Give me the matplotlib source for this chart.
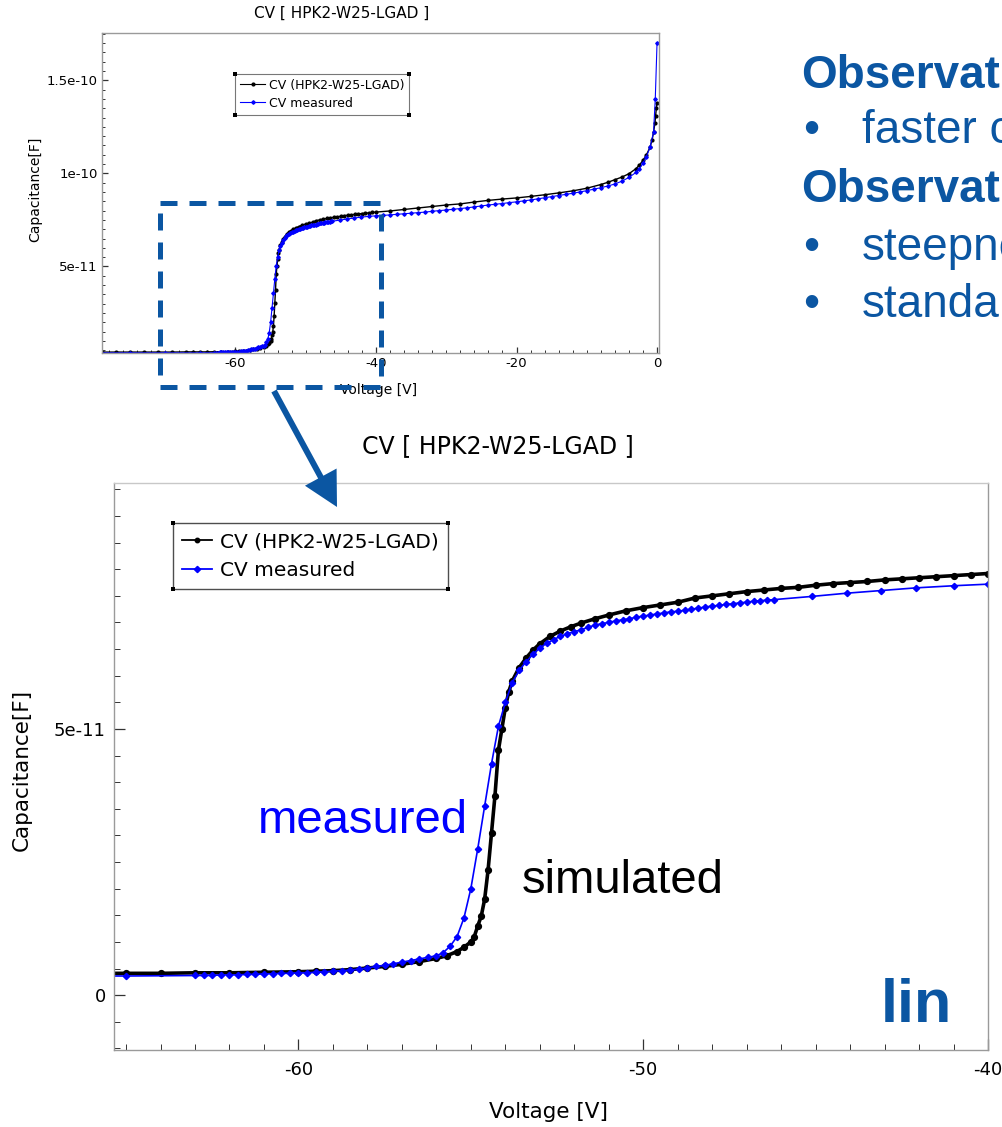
import numpy as np
import matplotlib.pyplot as plt
from matplotlib.ticker import MultipleLocator, FixedLocator, FuncFormatter
from matplotlib.patches import Rectangle, FancyArrow
from matplotlib.lines import Line2D
from matplotlib.transforms import Affine2D

# simulated CV curve (HPK2-W25-LGAD), capacitance in units of 1e-11 F
sim_v = [-79, -77, -75, -73, -71, -69, -67, -66, -65, -64, -63, -62, -61, -60,
         -59.5, -59, -58.5, -58, -57.5, -57, -56.5, -56, -55.7, -55.4, -55.2,
         -55.0, -54.9, -54.8, -54.7, -54.6, -54.5, -54.4, -54.3, -54.2, -54.1,
         -54.0, -53.9, -53.8, -53.6, -53.4, -53.2, -53.0, -52.7, -52.4, -52.1,
         -51.8, -51.4, -51.0, -50.5, -50.0, -49.5, -49.0, -48.5, -48.0, -47.5,
         -47.0, -46.5, -46.0, -45.5, -45.0, -44.5, -44.0, -43.5, -43.0, -42.5,
         -42.0, -41.5, -41.0, -40.5, -40.0, -38, -36, -34, -32, -30, -28, -26,
         -24, -22, -20, -18, -16, -14, -12, -10, -8, -7, -6, -5, -4, -3, -2.5,
         -2, -1.5, -1, -0.7, -0.5, -0.3, -0.2, -0.1, 0]
sim_c = [0.40, 0.40, 0.40, 0.40, 0.40, 0.40, 0.41, 0.41, 0.41, 0.41, 0.42, 0.42,
         0.43, 0.44, 0.45, 0.46, 0.48, 0.51, 0.54, 0.58, 0.63, 0.69, 0.74, 0.82,
         0.90, 1.00, 1.10, 1.30, 1.48, 1.80, 2.35, 3.05, 3.75, 4.60, 5.00, 5.40,
         5.70, 5.90, 6.15, 6.33, 6.48, 6.60, 6.74, 6.84, 6.92, 6.99, 7.07, 7.14,
         7.22, 7.28, 7.33, 7.38, 7.46, 7.50, 7.54, 7.58, 7.61, 7.64, 7.66, 7.70,
         7.73, 7.75, 7.77, 7.80, 7.82, 7.84, 7.86, 7.88, 7.90, 7.92, 7.98, 8.06,
         8.14, 8.22, 8.30, 8.36, 8.46, 8.55, 8.62, 8.68, 8.76, 8.85, 8.95, 9.06,
         9.20, 9.40, 9.52, 9.66, 9.80, 9.98, 10.25, 10.45, 10.7, 11.0, 11.4,
         11.8, 12.2, 12.7, 13.1, 13.5, 13.8]

# measured CV curve, capacitance in units of 1e-11 F
meas_v = [-80, -75, -70, -65, -63.0, -62.75, -62.5, -62.25, -62.0, -61.75, -61.5,
          -61.25, -61.0, -60.75, -60.5, -60.25, -60.0, -59.75, -59.5, -59.25,
          -59.0, -58.75, -58.5, -58.25, -58.0, -57.75, -57.5, -57.25, -57.0,
          -56.75, -56.5, -56.25, -56.0, -55.8, -55.6, -55.4, -55.2, -55.0, -54.8,
          -54.6, -54.4, -54.2, -54.0, -53.8, -53.6, -53.4, -53.2, -53.0, -52.8,
          -52.6, -52.4, -52.2, -52.0, -51.8, -51.6, -51.4, -51.2, -51.0, -50.8,
          -50.6, -50.4, -50.2, -50.0, -49.8, -49.6, -49.4, -49.2, -49.0, -48.8,
          -48.6, -48.4, -48.2, -48.0, -47.8, -47.6, -47.4, -47.2, -47.0, -46.8,
          -46.6, -46.4, -46.2, -45.1, -44.1, -43.1, -42.1, -41.0, -40.0, -39,
          -38, -37, -36, -35, -34, -33, -32, -31, -30, -29, -28, -27, -26, -25,
          -24, -23, -22, -21, -20, -19, -18, -17, -16, -15, -14, -13, -12, -11,
          -10, -9, -8, -7, -6, -5, -4, -3, -2.5, -2, -1.5, -1, -0.5, -0.25, 0]
meas_c = [0.36, 0.36, 0.36, 0.36, 0.37, 0.37, 0.37, 0.38, 0.38, 0.38, 0.39,
          0.39, 0.40, 0.40, 0.41, 0.41, 0.42, 0.42, 0.43, 0.44, 0.45, 0.46,
          0.47, 0.49, 0.51, 0.54, 0.56, 0.59, 0.62, 0.65, 0.68, 0.71, 0.74,
          0.80, 0.92, 1.10, 1.45, 2.00, 2.75, 3.55, 4.35, 5.05, 5.50, 5.87,
          6.10, 6.26, 6.40, 6.52, 6.61, 6.68, 6.74, 6.79, 6.83, 6.86, 6.91,
          6.95, 6.98, 7.00, 7.03, 7.05, 7.07, 7.10, 7.12, 7.14, 7.16, 7.18,
          7.20, 7.21, 7.23, 7.25, 7.27, 7.29, 7.31, 7.32, 7.34, 7.35, 7.37,
          7.38, 7.40, 7.41, 7.42, 7.43, 7.49, 7.55, 7.60, 7.65, 7.69, 7.72,
          7.74, 7.77, 7.80, 7.83, 7.86, 7.89, 7.92, 7.96, 8.00, 8.03, 8.07,
          8.11, 8.15, 8.20, 8.25, 8.30, 8.34, 8.38, 8.43, 8.47, 8.52, 8.57,
          8.63, 8.69, 8.75, 8.81, 8.87, 8.93, 9.00, 9.07, 9.15, 9.23, 9.32,
          9.43, 9.58, 9.78, 10.05, 10.25, 10.55, 10.9, 11.4, 12.2, 14.0, 17.0]

sim_label = 'CV (HPK2-W25-LGAD)'
meas_label = 'CV measured'
title = 'CV [ HPK2-W25-LGAD ]'

# major ticks of the two views
full_xticks = [-60, -40, -20, 0]
full_yticks = [5e-11, 1e-10, 1.5e-10]
zoom_xticks = [-60, -50, -40]
zoom_yticks = [0, 5e-11]

W, H = 1002, 1127
slide_blue = '#0b56a2'
spine_gray = '#9a9a9a'

sim_v = np.array(sim_v)
sim_c = np.array(sim_c) * 1e-11
meas_v = np.array(meas_v)
meas_c = np.array(meas_c) * 1e-11

fmt = FuncFormatter(lambda v, pos: '0' if abs(v) < 1e-20 else '%g' % v)


def style_axes(ax, fs, major_len, minor_len):
    for s in ax.spines.values():
        s.set_color(spine_gray)
        s.set_linewidth(1.0)
    ax.tick_params(which='both', direction='in', top=False, right=False,
                   colors='#333333', labelcolor='black', labelsize=fs)
    ax.tick_params(which='major', length=major_len, width=0.9)
    ax.tick_params(which='minor', length=minor_len, width=0.7)
    ax.xaxis.set_major_formatter(fmt)
    ax.yaxis.set_major_formatter(fmt)


fig = plt.figure(figsize=(W / 100, H / 100), dpi=100)
# pixel coordinates measured from the top-left corner of the figure
px = Affine2D().scale(1 / 100, -1 / 100).translate(0, H / 100) + fig.dpi_scale_trans


def corner_dots(leg):
    bb = leg.get_frame().get_window_extent()
    xs = [bb.x0, bb.x1, bb.x0, bb.x1]
    ys = [H - bb.y0, H - bb.y0, H - bb.y1, H - bb.y1]
    fig.add_artist(Line2D(xs, ys, ls='none', marker='s', color='black',
                          ms=2.6, mew=0, transform=px))


# full-range overview
ax1 = fig.add_axes([102 / W, 1 - 353 / H, 557 / W, 320 / H])
ax1.plot(sim_v, sim_c, '-o', color='black', lw=1.0, ms=2.0, label=sim_label)
ax1.plot(meas_v, meas_c, '-D', color='#0000ff', lw=0.8, ms=1.8, label=meas_label)
ax1.set_xlim(-79, 0.28)
ax1.set_ylim(3.5e-12, 1.754e-10)
ax1.xaxis.set_major_locator(FixedLocator(full_xticks))
ax1.xaxis.set_minor_locator(MultipleLocator(2))
ax1.yaxis.set_major_locator(FixedLocator(full_yticks))
ax1.yaxis.set_minor_locator(MultipleLocator(5e-12))
style_axes(ax1, 9.5, 4, 2.5)
ax1.tick_params(axis='x', pad=3)
ax1.tick_params(axis='y', pad=3)
ax1.set_xlabel('Voltage [V]', fontsize=10)
ax1.xaxis.set_label_coords(0.497, -0.116)
ax1.xaxis.label.set_va('center')
ax1.set_ylabel('Capacitance[F]', fontsize=10)
ax1.yaxis.set_label_coords(-0.120, 0.51)
ax1.yaxis.label.set_va('center')
ax1.text(0.431, 1.063, title, transform=ax1.transAxes, ha='center',
         va='center', fontsize=11)
leg1 = ax1.legend(loc='upper left', bbox_to_anchor=(0.239, 0.873),
                  borderaxespad=0, fontsize=9, frameon=True, fancybox=False,
                  edgecolor='#555555', handlelength=2.0, handletextpad=0.3,
                  borderpad=0.4, labelspacing=0.4)
leg1.get_frame().set_linewidth(0.8)
for ln in leg1.get_lines():
    ln.set_linewidth(0.8)

# zoom on the depletion of the gain layer
ax2 = fig.add_axes([114 / W, 1 - 1050 / H, 874 / W, 567 / H])
ax2.plot(sim_v, sim_c, '-o', color='black', lw=2.6, ms=4.2, label=sim_label)
ax2.plot(meas_v, meas_c, '-D', color='#0000ff', lw=1.2, ms=3.2, label=meas_label)
ax2.set_xlim(-65.35, -40)
ax2.set_ylim(-1.03e-11, 9.62e-11)
ax2.xaxis.set_major_locator(FixedLocator(zoom_xticks))
ax2.xaxis.set_minor_locator(MultipleLocator(1))
ax2.yaxis.set_major_locator(FixedLocator(zoom_yticks))
ax2.yaxis.set_minor_locator(MultipleLocator(5e-12))
style_axes(ax2, 13, 8, 4)
ax2.spines['top'].set_color('#c8c8c8')
ax2.tick_params(axis='x', pad=8)
ax2.tick_params(axis='y', pad=6)
ax2.set_xlabel('Voltage [V]', fontsize=15.5)
ax2.xaxis.set_label_coords(0.4966, -0.109)
ax2.xaxis.label.set_va('center')
ax2.set_ylabel('Capacitance[F]', fontsize=15.5)
ax2.yaxis.set_label_coords(-0.105, 0.494)
ax2.yaxis.label.set_va('center')
ax2.text(0.439, 1.065, title, transform=ax2.transAxes, ha='center',
         va='center', fontsize=17)
leg2 = ax2.legend(loc='upper left', bbox_to_anchor=(0.0675, 0.9295),
                  borderaxespad=0, fontsize=14.5, frameon=True, fancybox=False,
                  edgecolor='#222222', handlelength=1.5, handletextpad=0.4,
                  borderpad=0.45, labelspacing=0.5)
leg2.get_frame().set_linewidth(1.0)
for ln in leg2.get_lines():
    ln.set_linewidth(1.3)
    ln.set_markersize(3.2)

# zoom box and arrow linking the two views
fig.add_artist(Rectangle((159.5, 203), 221.5, 184, fill=False,
                         edgecolor=slide_blue, lw=3.6,
                         linestyle=(0, (3.4, 2.4)), transform=px))
fig.add_artist(FancyArrow(274, 391, 63, 116, width=6, head_width=36,
                          head_length=34, length_includes_head=True,
                          color=slide_blue, lw=0, transform=px))

sans = 'Liberation Sans'
fig.text(258, 833, 'measured', color='#0000ff', fontsize=34, family=sans,
         va='baseline', transform=px)
fig.text(522, 893, 'simulated', color='black', fontsize=34, family=sans,
         va='baseline', transform=px)
fig.text(881, 1022, 'lin', color=slide_blue, fontsize=44, family=sans,
         weight='bold', va='baseline', transform=px)

notes = [
    (801, 87.7, None, 'Observation', True),
    (862, 143, 803, 'faster c', False),
    (801, 202, None, 'Observation', True),
    (862, 260, 803, 'steepness', False),
    (862, 317, 803, 'standard', False),
]
for x, y, bx, s, bold in notes:
    fig.text(x, y, s, color=slide_blue, fontsize=33, family=sans,
             weight='bold' if bold else 'normal', va='baseline', transform=px)
    if bx is not None:
        fig.text(bx, y, '\u2022', color=slide_blue, fontsize=33, family=sans,
                 va='baseline', transform=px)

fig.canvas.draw()
corner_dots(leg1)
corner_dots(leg2)

fig.savefig('out.png', dpi=100)
